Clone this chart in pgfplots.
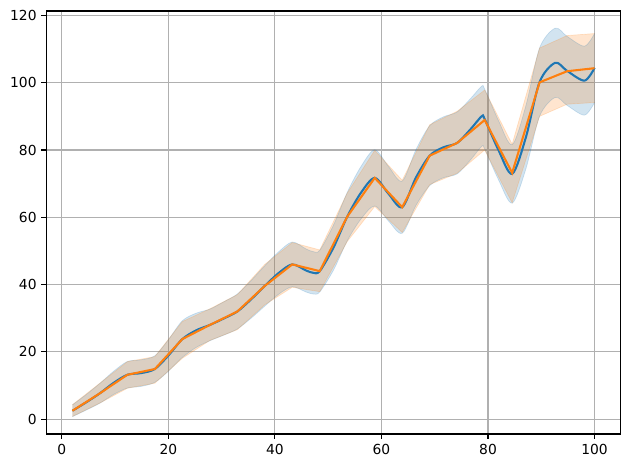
\documentclass[border=0pt]{standalone}
\usepackage{fontspec}
\setmainfont{DejaVu Sans}
\usepackage{pgfplots}
\pgfplotsset{compat=1.18}
\usepackage{pgfplotstable}
\usepgfplotslibrary{fillbetween}
\definecolor{tabblue}{HTML}{1F77B4}
\definecolor{taborange}{HTML}{FF7F0E}
\definecolor{gridgray}{HTML}{B0B0B0}

% orange series: mean, upper and lower bound at the sample points
\pgfplotstableread{
x      m      u      l
2.00   2.5    4.3    0.8
7.16   7.7    10.7   4.8
12.32  13.2   17.1   9.2
17.47  14.9   18.6   10.7
22.63  23.8   29.0   18.1
27.79  28.0   32.8   23.4
32.95  32.0   37.0   26.6
38.10  39.6   46.0   34.0
43.26  46.0   52.5   39.2
48.42  44.0   50.3   37.9
53.58  60.2   67.2   52.8
58.74  71.7   79.9   63.2
63.89  63.0   71.0   55.5
69.05  78.3   87.5   69.7
74.21  82.1   91.5   73.1
79.37  88.9   97.8   80.0
84.53  73.2   81.7   64.3
89.68  100.1  110.3  90.0
94.84  103.4  114.0  93.6
100.00 104.3  114.6  94.1
}\orangedata

% blue series: smooth curve and its band
\pgfplotstableread{
x      m      u      l
2.00   2.5    4.25   0.75
4.58   5.0    7.3    2.7
7.16   7.7    10.65  4.75
9.74   10.8   14.25  7.35
12.32  13.2   17.15  9.25
14.90  13.7   17.65  9.75
17.47  14.9   18.85  10.95
20.05  19.0   23.7   14.3
22.63  23.8   29.25  18.35
25.21  26.4   31.5   21.3
27.79  28.0   32.7   23.3
30.37  29.9   34.85  24.95
32.95  32.0   37.2   26.8
35.53  35.6   41.2   30.0
38.10  39.6   45.6   33.6
40.68  43.4   49.7   37.1
43.26  46.0   52.65  39.35
45.84  44.2   50.6   37.8
47.20  43.5   49.8   37.2
48.42  44.0   50.2   37.8
51.00  51.0   57.7   44.3
53.58  60.2   67.4   53.0
56.16  67.3   75.1   59.5
58.74  71.7   80.05  63.35
61.32  67.0   75.1   58.9
63.89  63.0   70.75  55.25
66.47  71.8   80.1   63.5
69.05  78.3   87.2   69.4
71.63  80.8   89.85  71.75
74.21  82.1   91.3   72.9
76.79  86.3   95.4   77.2
78.80  90.0   98.95  81.05
79.37  89.2   98.1   80.3
81.95  80.0   88.8   71.2
84.53  72.9   81.6   64.2
87.11  83.8   93.2   74.4
89.68  100.2  110.35 90.05
92.60  105.9  116.2  95.6
94.84  103.5  113.75 93.25
98.10  100.6  110.85 90.35
100.00 104.4  114.65 94.15
}\bluedata

\begin{document}
\begin{tikzpicture}
\path (0,0) rectangle (6.3in,4.69in);
\begin{axis}[
  at={(0.463in,0.35in)}, anchor=south west,
  scale only axis, width=5.744in, height=4.23in,
  xmin=-2.9, xmax=104.9, ymin=-4.4, ymax=121.3,
  xtick={0,20,40,60,80,100}, ytick={0,20,40,60,80,100,120},
  xtick pos=bottom, ytick pos=left,
  tick align=outside, major tick length=3.5pt,
  tick style={black, line width=0.8pt},
  axis line style={line width=0.8pt},
  grid=major, grid style={gridgray, line width=0.8pt},
  tick label style={font=\fontsize{10}{12}\selectfont, text=black},
  /pgf/number format/assume math mode=true,
]
% blue band
\addplot[name path=bu, draw=tabblue, draw opacity=0.2, line width=0.5pt, smooth, forget plot] table[x=x, y=u]{\bluedata};
\addplot[name path=bl, draw=tabblue, draw opacity=0.2, line width=0.5pt, smooth, forget plot] table[x=x, y=l]{\bluedata};
\addplot[fill=tabblue, fill opacity=0.2, draw=none, forget plot] fill between[of=bu and bl];
% orange band
\addplot[name path=ou, draw=taborange, draw opacity=0.2, line width=0.5pt, forget plot] table[x=x, y=u]{\orangedata};
\addplot[name path=ol, draw=taborange, draw opacity=0.2, line width=0.5pt, forget plot] table[x=x, y=l]{\orangedata};
\addplot[fill=taborange, fill opacity=0.2, draw=none, forget plot] fill between[of=ou and ol];
% lines
\addplot[tabblue, line width=1.5pt, smooth, no markers] table[x=x, y=m]{\bluedata};
\addplot[taborange, line width=1.5pt, no markers] table[x=x, y=m]{\orangedata};
\end{axis}
\end{tikzpicture}
\end{document}
